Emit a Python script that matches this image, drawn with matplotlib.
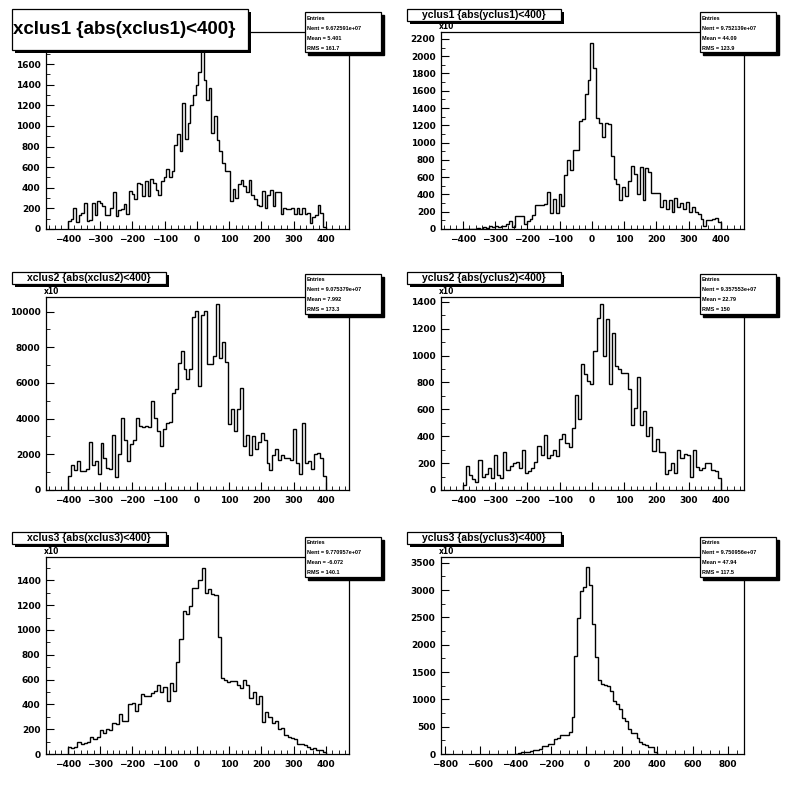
import numpy as np
import matplotlib
matplotlib.use("Agg")
import matplotlib.pyplot as plt
from matplotlib.patches import Rectangle
from matplotlib.ticker import MultipleLocator, AutoMinorLocator

titles = ["xclus1 {abs(xclus1)<400}", "yclus1 {abs(yclus1)<400}",
          "xclus2 {abs(xclus2)<400}", "yclus2 {abs(yclus2)<400}",
          "xclus3 {abs(xclus3)<400}", "yclus3 {abs(yclus3)<400}"]
nent = ["9.672591e+07", "9.752139e+07", "9.075379e+07", "9.357553e+07", "9.770957e+07", "9.750956e+07"]
means = ["5.401", "44.09", "7.992", "22.79", "-6.072", "47.94"]
rms = ["161.7", "123.9", "173.3", "150", "140.1", "117.5"]

xclus1 = [80,100,200,70,140,160,250,80,90,250, 140,270,250,220,140,140,200,360,130,180,
          190,240,150,370,340,290,450,440,320,470, 320,490,450,380,330,470,500,580,500,560,
          820,920,760,1220,870,1030,1200,1300,1400,1520,
          1900,1450,1250,1370,930,1100,860,760,640,560, 560,270,390,300,440,480,420,360,480,330,
          290,230,220,370,200,330,380,220,360,360, 150,200,190,190,200,150,200,150,200,150,
          160,60,120,140,230,160,20]
yclus1 = [0,5,5,5,5,10,5,20,10,30, 20,30,20,30,40,60,90,20,150,150,
          150,60,90,120,160,280,280,280,290,430, 190,350,190,400,270,620,800,680,920,920,
          1250,1270,1560,1720,2150,1860,1280,1230,1060,1230,
          1210,850,580,520,340,490,380,550,730,640, 410,720,330,710,660,420,420,420,260,330,
          230,340,200,360,260,300,230,310,200,260, 200,170,110,40,100,100,120,130,80]
xclus2 = [800,1400,1100,1600,1050,1050,1200,2700,1400,1600, 900,2650,1800,1250,1200,3100,750,2000,4050,2800,
          1650,2600,2800,4050,3600,3550,3600,3550,5000,4050, 3300,2450,3400,3750,3800,5450,5650,7100,7800,6800,
          6200,6800,9700,10050,5850,9800,10050,7050,7050,7500, 10400,7400,8300,7200,3700,4550,3300,4550,5700,2450,
          3100,1950,3000,2300,2700,3200,2800,1500,1100,1950, 2300,1700,1950,1800,1800,1700,3400,1500,900,3750,
          1500,1650,1150,2000,2100,1800,800]
yclus2 = [40,180,110,80,60,220,100,120,160,90,260,110,90,280,150,180,200,210,160,300,130,140,160,210,330,
          260,410,240,260,300,250,380,420,350,320,460,710,530,940,860,810,790,1030,1280,1380,1000,1270,790,
          1170,920,900,870,870,750,480,610,840,480,590,400,470,290,380,280,280,120,150,200,130,300,240,270,
          260,100,300,170,150,160,200,200,150,140,90]
xclus3 = [60,50,60,100,80,90,100,140,120,140,190,170,200,190,250,240,320,270,270,400,410,350,400,480,470,
          470,490,510,560,500,540,430,570,510,740,930,1150,1130,1190,1340,1340,1400,1500,1300,1330,1290,1280,
          940,610,600,580,590,590,560,530,600,560,450,500,400,470,260,340,300,250,270,200,210,150,140,130,120,
          80,80,70,60,40,50,30,30,15]
yclus3 = [0,10,30,40,40,60,80,70,100,140,150,180,180,270,300,340,340,340,410,670,1790,2480,2990,3050,3420,
          3100,2370,1780,1350,1290,1270,1250,1160,970,920,820,650,610,460,380,380,290,220,180,160,130,130,30]
series = [xclus1, yclus1, xclus2, yclus2, xclus3, yclus3]

ylims = [1912, 2280, 10820, 1435, 1588, 3605]
ymaj = [200, 200, 2000, 200, 200, 500]
xlims = [(-468, 472)] * 5 + [(-820, 890)]
xmaj = [100] * 5 + [200]

W, H = 791, 787
fig = plt.figure(figsize=(W / 100, H / 100), dpi=100)
cols = [46, 441]
rows = [(32, 229), (297, 490), (557, 754)]
for i in range(6):
    r, c = divmod(i, 2)
    l = cols[c]; t, b = rows[r]
    ax = fig.add_axes([l / W, 1 - b / H, 303 / W, (b - t) / H])
    vals = np.array(series[i], dtype=float)
    edges = np.linspace(-400, 400, len(vals) + 1)
    ax.stairs(vals, edges, color="black", lw=1.0)
    ax.set_xlim(*xlims[i]); ax.set_ylim(0, ylims[i])
    ax.xaxis.set_major_locator(MultipleLocator(xmaj[i]))
    ax.yaxis.set_major_locator(MultipleLocator(ymaj[i]))
    ax.xaxis.set_minor_locator(AutoMinorLocator(5 if i < 5 else 4))
    ax.yaxis.set_minor_locator(AutoMinorLocator(2))
    ax.tick_params(direction="in", which="both", top=False, right=False, labelsize=6.5, length=6, pad=4)
    ax.tick_params(which="minor", length=3)
    for lab in ax.get_xticklabels() + ax.get_yticklabels():
        lab.set_fontweight("bold")
    for s in ax.spines.values():
        s.set_linewidth(0.9)
    sx0, sx1 = (305 + 395 * c) / W, (381 + 395 * c) / W
    top_px = [12, 274, 537][r]
    sy1, sy0 = 1 - top_px / H, 1 - (top_px + 40) / H
    fig.patches.append(Rectangle((sx0 + 3 / W, sy0 - 3 / H), sx1 - sx0, sy1 - sy0, transform=fig.transFigure,
                                 facecolor="black", edgecolor="black", zorder=9))
    fig.patches.append(Rectangle((sx0, sy0), sx1 - sx0, sy1 - sy0, transform=fig.transFigure,
                                 facecolor="white", edgecolor="black", lw=0.9, zorder=10))
    lines = ["Entries", f"Nent = {nent[i]}", f"Mean = {means[i]}", f"RMS = {rms[i]}"]
    for k, txt in enumerate(lines):
        fig.text(sx0 + 2 / W, sy1 - (6 + 10 * k) / H, txt, fontsize=4.0, fontweight="bold",
                 family="Liberation Sans", va="center", ha="left", zorder=11)
    if i == 0:
        bx0, bx1, by0, by1 = 12, 248, 9, 50
        fs = 13.5
    else:
        bx0, bx1 = 12 + 395 * c, 166 + 395 * c
        by0 = [9, 272, 532][r]; by1 = by0 + 12
        fs = 7.5
        fig.text((l - 2) / W, 1 - (t - 1) / H, "x10", fontsize=5.5, fontweight="bold", ha="left", va="bottom")
    fig.patches.append(Rectangle((bx0 / W + 3 / W, 1 - by1 / H - 3 / H), (bx1 - bx0) / W, (by1 - by0) / H,
                                 transform=fig.transFigure, facecolor="black", zorder=9))
    fig.patches.append(Rectangle((bx0 / W, 1 - by1 / H), (bx1 - bx0) / W, (by1 - by0) / H,
                                 transform=fig.transFigure, facecolor="white", edgecolor="black", lw=0.9, zorder=10))
    fig.text((bx0 + bx1) / 2 / W if i else (bx0 + 1) / W, 1 - (by0 + by1) / 2 / H, titles[i], fontsize=fs,
             fontweight="bold", family="Liberation Sans", ha="center" if i else "left", va="center", zorder=11)

fig.savefig("out.png", dpi=100, facecolor="white")
